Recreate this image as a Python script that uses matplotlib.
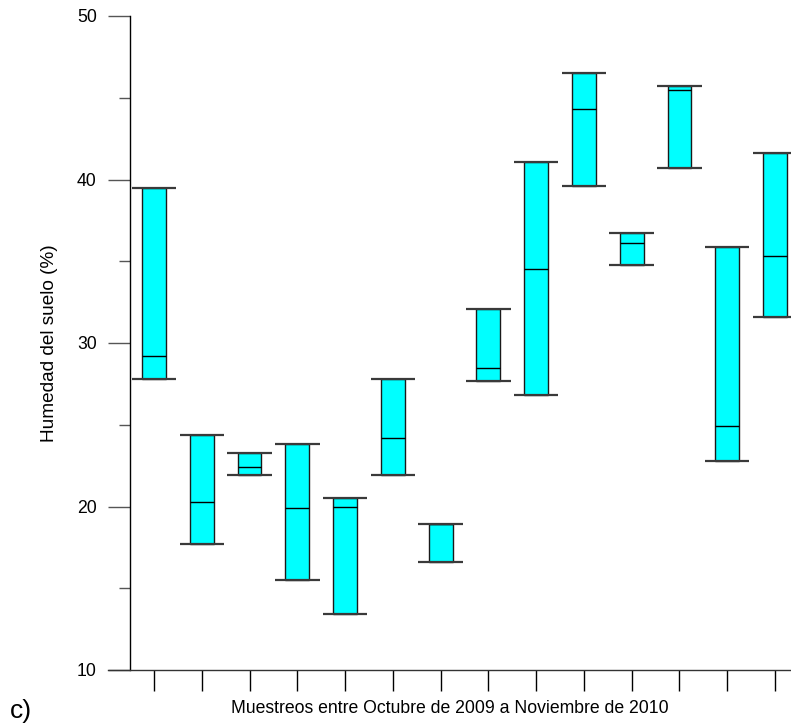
import numpy as np
import matplotlib
matplotlib.use('Agg')
from matplotlib import pyplot as plt

plt.rcParams['font.family'] = ['Liberation Sans', 'DejaVu Sans']

# soil moisture per sampling date (min, median, max)
muestreos = np.arange(1, 15)
minimos = [27.8, 17.7, 21.9, 15.5, 13.4, 21.9, 16.6, 27.7, 26.8, 39.6, 34.8, 40.7, 22.8, 31.6]
medianas = [29.2, 20.3, 22.4, 19.9, 20.0, 24.2, 18.9, 28.5, 34.5, 44.3, 36.1, 45.5, 24.9, 35.3]
maximos = [39.5, 24.4, 23.3, 23.8, 20.5, 27.8, 18.9, 32.1, 41.1, 46.5, 36.7, 45.7, 35.9, 41.6]

y_ticks = [10, 20, 30, 40, 50]
y_minor = [15, 25, 35, 45]

minimos = np.array(minimos)
maximos = np.array(maximos)

fig = plt.figure(figsize=(7.91, 7.25), dpi=100)
ax = fig.add_axes([108/791, 55/725, (791-108)/791, 654/725])

# boxes
ax.bar(muestreos, maximos - minimos, bottom=minimos, width=0.5,
       color='#00ffff', edgecolor='#1a1a1a', linewidth=1.0, zorder=2)
ax.hlines(medianas, muestreos - 0.25, muestreos + 0.25, color='black', linewidth=1.0, zorder=3)
# caps
ax.hlines(minimos, muestreos - 0.465, muestreos + 0.465, color='#3a3a3a', linewidth=1.6, zorder=3)
ax.hlines(maximos, muestreos - 0.465, muestreos + 0.465, color='#3a3a3a', linewidth=1.6, zorder=3)

ax.set_xlim(0.037, 14.335)
ax.set_ylim(10, 50)

for s in ['top', 'right']:
    ax.spines[s].set_visible(False)
ax.spines['left'].set_position(('data', 0.5))
ax.spines['left'].set_linewidth(1.0)
ax.spines['bottom'].set_linewidth(1.0)
ax.spines['bottom'].set_color('#333333')

ax.set_yticks(y_ticks)
ax.set_yticks(y_minor, minor=True)
ax.set_xticks(muestreos)
ax.set_xticklabels([])
ax.tick_params(axis='y', which='major', length=16, width=1.0, color='#555555',
               direction='out', pad=8, labelsize=12.7)
ax.tick_params(axis='y', which='minor', length=8, width=1.0, color='#555555', direction='out')
ax.tick_params(axis='x', which='major', length=15, width=1.0, color='black', direction='out')

ax.set_ylabel('Humedad del suelo (%)', fontsize=13.7)
ax.set_xlabel('Muestreos entre Octubre de 2009 a Noviembre de 2010', fontsize=12.7, labelpad=3)
ax.yaxis.set_label_coords(-0.073, 0.5)

fig.text(10/791, 1 - 718/725, 'c)', fontsize=19, ha='left', va='baseline')

fig.savefig('out.png', dpi=100)
